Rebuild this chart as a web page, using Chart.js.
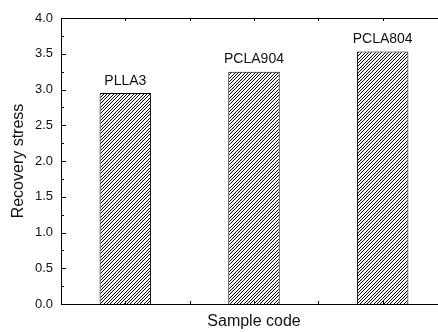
<!DOCTYPE html>
<html>
<head>
<meta charset="utf-8">
<script src="https://cdn.jsdelivr.net/npm/chart.js@4/dist/chart.umd.min.js"></script>
<style>
  html, body { margin: 0; padding: 0; background: #fff; overflow: hidden; }
  #wrap { width: 438px; height: 332px; overflow: hidden; position: relative; }
  #chart { display: block; }
</style>
</head>
<body>
<div id="wrap"><canvas id="chart" width="452" height="332"></canvas></div>
<script>
var samples = ["PLLA3", "PCLA904", "PCLA804"];
var recoveryStress = [2.95, 3.25, 3.53];
var yTicks = [0.0, 0.5, 1.0, 1.5, 2.0, 2.5, 3.0, 3.5, 4.0];

var fontName = "'Liberation Sans', Arial, Helvetica, sans-serif";

// diagonal //// hatch used for the bars, drawn pixel by pixel so it stays crisp
// (10px tile with 3 lines -> about 3.3px between lines)
function makeHatch() {
    var n = 10;
    var c = document.createElement("canvas");
    c.width = n; c.height = n;
    var g = c.getContext("2d");
    g.fillStyle = "#fff";
    g.fillRect(0, 0, n, n);
    g.fillStyle = "#000";
    for (var i = 0; i < n; i++) {
        for (var j = 0; j < n; j++) {
            var k = (i + j) % n;
            if (k === 0 || k === 3 || k === 7) g.fillRect(i, j, 1, 1);
        }
    }
    return g.createPattern(c, "repeat");
}

// frame, inward ticks and the labels over each bar
var framePlugin = {
    id: "frame",
    afterDatasetsDraw: function(chart) {
        var ctx = chart.ctx;
        var area = chart.chartArea;
        var x = chart.scales.x;
        var y = chart.scales.y;
        ctx.save();
        ctx.strokeStyle = "#000";
        ctx.lineWidth = 1;
        ctx.beginPath();
        ctx.moveTo(area.left, Math.round(area.top) + 0.5);
        ctx.lineTo(area.right, Math.round(area.top) + 0.5);
        ctx.moveTo(Math.round(area.right) - 0.5, area.top);
        ctx.lineTo(Math.round(area.right) - 0.5, area.bottom);

        // y ticks, major every 0.5 and minor in between
        for (var v = 0; v <= 4.001; v += 0.25) {
            var py = Math.round(y.getPixelForValue(v)) + 0.5;
            var major = Math.abs(v * 2 - Math.round(v * 2)) < 0.01;
            var len = major ? 5 : 3;
            ctx.moveTo(area.left, py);
            ctx.lineTo(area.left + len, py);
        }

        // x ticks at bar centres and between the bars
        for (var i = -0.5; i <= samples.length - 0.5; i += 0.5) {
            var px = Math.round(x.getPixelForValue(i)) + 0.5;
            ctx.moveTo(px, area.bottom);
            ctx.lineTo(px, area.bottom - 3);
            ctx.moveTo(px, area.top);
            ctx.lineTo(px, area.top + 3);
        }
        ctx.stroke();

        ctx.fillStyle = "#111";
        ctx.font = "14px " + fontName;
        ctx.textAlign = "center";
        ctx.textBaseline = "bottom";
        chart.getDatasetMeta(0).data.forEach(function(bar, idx) {
            ctx.fillText(samples[idx], bar.x, bar.y - 5);
        });
        ctx.restore();
    }
};

var config = {
    type: "bar",
    data: {
        labels: samples,
        datasets: [{
            data: recoveryStress,
            backgroundColor: makeHatch(),
            borderColor: "#000",
            borderWidth: 1,
            categoryPercentage: 1.0,
            barPercentage: 0.4
        }]
    },
    options: {
        responsive: false,
        animation: false,
        devicePixelRatio: 1,
        layout: { padding: { top: 18, right: 5, left: 0, bottom: 0 } },
        plugins: {
            legend: { display: false },
            tooltip: { enabled: false }
        },
        scales: {
            x: {
                grid: { display: false, drawTicks: false },
                border: { display: true, color: "#000", width: 1 },
                ticks: { display: false },
                title: {
                    display: true,
                    text: "Sample code",
                    color: "#111",
                    font: { family: fontName, size: 16 },
                    padding: { top: 0, bottom: 1 }
                },
                afterFit: function(scale) { scale.height = 28; }
            },
            y: {
                min: 0,
                max: 4,
                grid: { display: false, drawTicks: false },
                border: { display: true, color: "#000", width: 1 },
                ticks: {
                    stepSize: 0.5,
                    padding: 8,
                    color: "#111",
                    font: { family: fontName, size: 13 },
                    callback: function(val) { return yTicks.indexOf(val) >= 0 ? val.toFixed(1) : ""; }
                },
                title: {
                    display: true,
                    text: "Recovery stress",
                    color: "#111",
                    font: { family: fontName, size: 16 },
                    padding: { top: 9, bottom: 0 }
                },
                afterFit: function(scale) { scale.width = 61; }
            }
        }
    },
    plugins: [framePlugin]
};

var ctx = document.getElementById("chart");
window.myChart = new Chart(ctx, config);
</script>
</body>
</html>
